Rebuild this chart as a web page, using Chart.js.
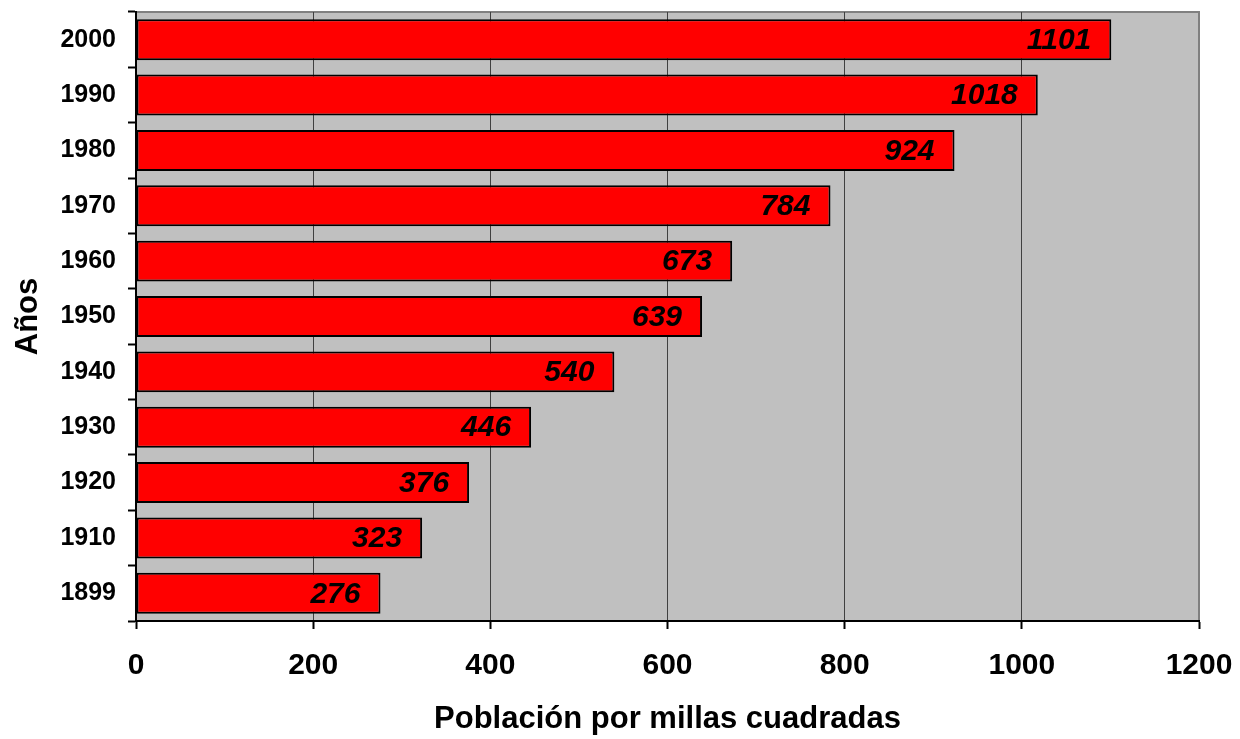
<!DOCTYPE html>
<html>
<head>
<meta charset="utf-8">
<style>
  html, body { margin: 0; padding: 0; background: #ffffff; }
  #wrap { width: 1240px; height: 739px; }
</style>
<script src="https://cdn.jsdelivr.net/npm/chart.js@4/dist/chart.umd.min.js"></script>
</head>
<body>
<div id="wrap"><canvas id="chart" width="1240" height="739"></canvas></div>
<script>
// Población por millas cuadradas, por año censal
const years = ['1899', '1910', '1920', '1930', '1940', '1950', '1960', '1970', '1980', '1990', '2000'];
const density = [276, 323, 376, 446, 540, 639, 673, 784, 924, 1018, 1101];
const xTicks = [0, 200, 400, 600, 800, 1000, 1200];

const FONT = '"Liberation Sans", Arial, sans-serif';

// Gray plot background with a gray frame on the top and right edges
const plotFrame = {
  id: 'plotFrame',
  beforeDraw(chart) {
    const { ctx, chartArea: a } = chart;
    ctx.save();
    ctx.fillStyle = '#C0C0C0';
    ctx.fillRect(a.left, a.top, a.right - a.left, a.bottom - a.top);
    ctx.strokeStyle = '#808080';
    ctx.lineWidth = 2;
    ctx.beginPath();
    ctx.moveTo(a.left, a.top);
    ctx.lineTo(a.right, a.top);
    ctx.lineTo(a.right, a.bottom);
    ctx.stroke();
    ctx.restore();
  }
};

// Value labels drawn inside the end of each bar
const barValues = {
  id: 'barValues',
  afterDatasetsDraw(chart) {
    const { ctx } = chart;
    const meta = chart.getDatasetMeta(0);
    ctx.save();
    ctx.font = 'italic bold 30px ' + FONT;
    ctx.fillStyle = '#000000';
    ctx.textAlign = 'right';
    ctx.textBaseline = 'middle';
    meta.data.forEach((bar, i) => {
      ctx.fillText(String(density[i]), bar.x - 20, bar.y + 1);
    });
    ctx.restore();
  }
};

// Keep the plot area at a fixed place: no extra room for overhanging tick labels
function noLabelPadding(scale) {
  scale.paddingLeft = 0;
  scale.paddingRight = 0;
  scale.paddingTop = 0;
  scale.paddingBottom = 0;
}

new Chart(document.getElementById('chart'), {
  type: 'bar',
  data: {
    labels: years,
    datasets: [{
      data: density,
      backgroundColor: '#FF0000',
      borderColor: '#000000',
      borderWidth: 2,
      borderSkipped: false,
      barPercentage: 0.74,
      categoryPercentage: 1.0
    }]
  },
  options: {
    indexAxis: 'y',
    responsive: false,
    animation: false,
    layout: { padding: { top: 12, right: 41, left: 0, bottom: 0 } },
    plugins: {
      legend: { display: false },
      tooltip: { enabled: false }
    },
    scales: {
      x: {
        type: 'linear',
        min: 0,
        max: 1200,
        afterBuildTicks(scale) {
          scale.ticks = xTicks.map(v => ({ value: v }));
        },
        afterFit(scale) {
          scale.height = 118;
          noLabelPadding(scale);
        },
        ticks: {
          color: '#000000',
          padding: 19,
          maxRotation: 0,
          callback: v => String(v),
          font: { family: FONT, size: 30, weight: 'bold' }
        },
        grid: {
          drawOnChartArea: true,
          color: ctx => (ctx.tick && ctx.tick.value === 1200) ? '#808080' : '#404040',
          lineWidth: 1,
          tickLength: 8,
          tickColor: '#000000',
          tickWidth: 2
        },
        border: { display: true, color: '#000000', width: 2 },
        title: {
          display: true,
          text: 'Población por millas cuadradas',
          color: '#000000',
          padding: { top: 0, bottom: 1 },
          font: { family: FONT, size: 31, weight: 'bold' }
        }
      },
      y: {
        reverse: true,
        afterFit(scale) {
          scale.width = 136;
          noLabelPadding(scale);
        },
        ticks: {
          color: '#000000',
          padding: 12,
          font: { family: FONT, size: 25, weight: 'bold' }
        },
        grid: {
          offset: true,
          drawOnChartArea: false,
          drawTicks: true,
          tickLength: 8,
          tickColor: '#000000',
          tickWidth: 2
        },
        border: { display: true, color: '#000000', width: 2 },
        title: {
          display: true,
          text: 'Años',
          color: '#000000',
          padding: { top: 10, bottom: 0 },
          font: { family: FONT, size: 31, weight: 'bold' }
        }
      }
    }
  },
  plugins: [plotFrame, barValues]
});
</script>
</body>
</html>
